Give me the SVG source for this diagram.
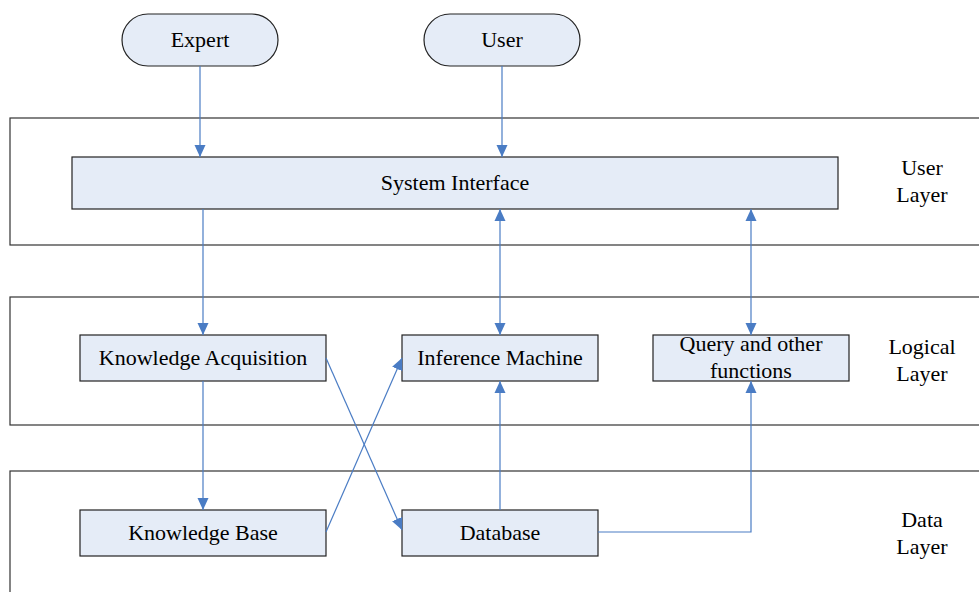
<svg xmlns="http://www.w3.org/2000/svg" width="979" height="592" viewBox="0 0 979 592">
<style>
.layer{fill:none;stroke:#333;stroke-width:1.2}
.node{fill:#E5ECF7;stroke:#222;stroke-width:1.2}
.t{font-family:"Liberation Serif","Times New Roman",serif;font-size:22px;fill:#000;text-anchor:middle}
.c{fill:none;stroke:#4A7CC4;stroke-width:1.2}
</style>
<defs>
<marker id="ah" markerUnits="userSpaceOnUse" markerWidth="12" markerHeight="12" viewBox="0 0 12 12" refX="12" refY="6" orient="auto-start-reverse">
<path d="M0,0.5 L12,6 L0,11.5 Z" fill="#4A7CC4"/>
</marker>
</defs>
<rect width="979" height="592" fill="#fff"/>
<g id="layers">
<rect class="layer" x="10" y="118" width="980" height="127"/>
<rect class="layer" x="10" y="297" width="980" height="128"/>
<rect class="layer" x="10" y="471" width="980" height="140"/>
<text class="t" x="922" y="175">User</text>
<text class="t" x="922" y="202">Layer</text>
<text class="t" x="922" y="354">Logical</text>
<text class="t" x="922" y="381">Layer</text>
<text class="t" x="922" y="527">Data</text>
<text class="t" x="922" y="554">Layer</text>
</g>
<g id="expert"><rect class="node" x="122" y="14" width="156" height="52" rx="26"/><text class="t" x="200" y="47">Expert</text></g>
<g id="user"><rect class="node" x="424" y="14" width="156" height="52" rx="26"/><text class="t" x="502" y="47">User</text></g>
<g id="system-interface"><rect class="node" x="72" y="157" width="766" height="52"/><text class="t" x="455" y="190">System Interface</text></g>
<g id="knowledge-acquisition"><rect class="node" x="80" y="335" width="246" height="46"/><text class="t" x="203" y="365">Knowledge Acquisition</text></g>
<g id="inference-machine"><rect class="node" x="402" y="335" width="196" height="46"/><text class="t" x="500" y="365">Inference Machine</text></g>
<g id="query"><rect class="node" x="653" y="335" width="196" height="46"/><text class="t" x="751" y="351">Query and other</text><text class="t" x="751" y="378">functions</text></g>
<g id="knowledge-base"><rect class="node" x="80" y="510" width="246" height="46"/><text class="t" x="203" y="540">Knowledge Base</text></g>
<g id="database"><rect class="node" x="402" y="510" width="196" height="46"/><text class="t" x="500" y="540">Database</text></g>
<g id="connectors">
<path class="c" d="M200,66 V157" marker-end="url(#ah)"/>
<path class="c" d="M502,66 V157" marker-end="url(#ah)"/>
<path class="c" d="M203,209 V335" marker-end="url(#ah)"/>
<path class="c" d="M500,209 V335" marker-start="url(#ah)" marker-end="url(#ah)"/>
<path class="c" d="M751,209 V335" marker-start="url(#ah)" marker-end="url(#ah)"/>
<path class="c" d="M203,381 V510" marker-end="url(#ah)"/>
<path class="c" d="M326,358 L402,530" marker-end="url(#ah)"/>
<path class="c" d="M326,532 L402,358" marker-end="url(#ah)"/>
<path class="c" d="M500,510 V381" marker-end="url(#ah)"/>
<path class="c" d="M598,532 H751 V381" marker-end="url(#ah)"/>
</g>
</svg>
